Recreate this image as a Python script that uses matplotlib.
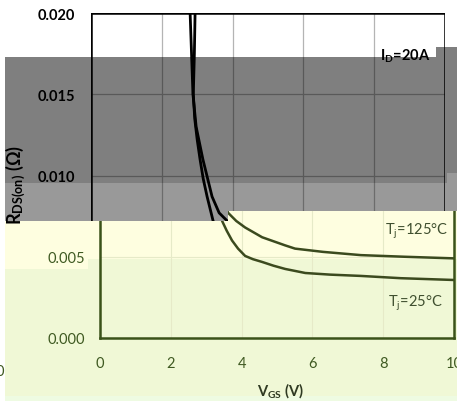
import matplotlib
matplotlib.use("Agg")
import matplotlib.pyplot as plt
from matplotlib.patches import Polygon, Rectangle
from matplotlib.ticker import FuncFormatter

# Rds(on) vs Vgs
vgs_25 = [2.94, 2.92, 2.89, 2.93, 3.00, 3.08, 3.17, 3.28, 3.45, 3.58, 3.73, 3.90, 4.10, 4.32,
          4.58, 4.90, 5.23, 5.80, 6.50, 7.37, 8.50, 10.0]
rds_25 = [0.0200, 0.0175, 0.0150, 0.0135, 0.0122, 0.0110, 0.0098, 0.0087, 0.0072, 0.0066,
          0.0060, 0.0055, 0.00505, 0.00485, 0.00468, 0.00445, 0.00425, 0.0040, 0.0039,
          0.00382, 0.00368, 0.00357]
vgs_125 = [2.80, 2.84, 2.88, 2.97, 3.16, 3.42, 3.62, 3.85, 4.10, 4.58, 5.23, 5.51, 6.30,
           7.37, 8.60, 10.0]
rds_125 = [0.0200, 0.0175, 0.0150, 0.0130, 0.0110, 0.0087, 0.0077, 0.0072, 0.0068, 0.0062,
           0.0057, 0.0055, 0.0053, 0.0051, 0.0050, 0.0049]
x_ticks = [0, 2, 4, 6, 8, 10]
y_ticks = [0.000, 0.005, 0.010, 0.015, 0.020]

W, H = 457, 402
plt.rcParams["font.family"] = ["Lato", "DejaVu Sans"]
plt.rcParams["mathtext.fontset"] = "custom"
plt.rcParams["mathtext.rm"] = "Lato"
plt.rcParams["mathtext.bf"] = "Lato:bold"
plt.rcParams["mathtext.it"] = "Lato:italic"

olive = "#3a5219"
curve_olive = "#3b4a1e"
label_olive = "#3f5a22"


def fx(px):
    return px / W


def fy(py):
    return 1 - py / H


def frect(x0, y0, x1, y1, **kw):
    return Rectangle((fx(x0), fy(y1)), fx(x1) - fx(x0), fy(y0) - fy(y1),
                     transform=fig.transFigure, linewidth=0, **kw)


fig = plt.figure(figsize=(W / 100, H / 100), dpi=100)
fig.patch.set_facecolor("white")

# lower background bands
fig.add_artist(frect(5, 212, 457, 260, facecolor="#fefee0", zorder=-2))
fig.add_artist(frect(5, 260, 88, 270, facecolor="#fefee0", zorder=-2))
fig.add_artist(frect(5, 260, 457, 397, facecolor="#f0f8d6", zorder=-3))
fig.add_artist(frect(88, 260, 457, 270, facecolor="#f0f8d6", zorder=-2))
fig.add_artist(frect(5, 397, 457, 402, facecolor="#eefbe2", zorder=-2))

upper = [(0, 0), (457, 0), (457, 212), (228, 212), (228, 222), (0, 222)]
upper_fig = [(fx(a), fy(b)) for a, b in upper]

# lower copy of the chart
ax_bot = fig.add_axes([fx(100), fy(339), fx(354), 325 / H], zorder=0)
ax_bot.set_facecolor("none")
ax_bot.plot(vgs_125, rds_125, color=curve_olive, linewidth=1.8)
ax_bot.plot(vgs_25, rds_25, color=curve_olive, linewidth=1.8)
ax_bot.set_xlim(0, 10)
ax_bot.set_ylim(0, 0.020)
ax_bot.set_xticks(x_ticks)
ax_bot.set_yticks(y_ticks)
ax_bot.yaxis.set_major_formatter(FuncFormatter(lambda v, p: f"{v:.3f}" if v < 0.0075 else ""))
ax_bot.grid(True, color="#e6eac8", linewidth=0.8)
ax_bot.tick_params(axis="both", length=0, labelsize=10.5, labelcolor=label_olive)
ax_bot.tick_params(axis="y", pad=10.8)
ax_bot.tick_params(axis="x", pad=13)
for spine in ax_bot.spines.values():
    spine.set_color(olive)
    spine.set_linewidth(1.8)
ax_bot.text(8.05, 0.00665, "T$_\\mathrm{j}$=125°C", fontsize=10.5, color="#3f4f2f", va="center")
ax_bot.text(8.14, 0.00222, "T$_\\mathrm{j}$=25°C", fontsize=10.5, color="#3f4f2f", va="center")

fig.text(fx(281), fy(391), "V$_\\mathbf{GS}$ (V)", fontsize=10.5, fontweight="bold",
         color="#2f3a22", ha="center", va="center")
fig.text(fx(0), fy(372), "0", fontsize=10.5, color=label_olive, ha="center", va="center")

# white base for the upper copy
fig.add_artist(Polygon(upper_fig, closed=True, transform=fig.transFigure,
                       facecolor="white", edgecolor="none", zorder=1))
clip = Polygon(upper_fig, closed=True, transform=fig.transFigure)

# upper copy of the chart, shifted left
ax_top = fig.add_axes([fx(91), fy(339), fx(354), 325 / H], zorder=2)
ax_top.set_facecolor("none")
lines = ax_top.plot(vgs_125, rds_125, color="black", linewidth=2.0)
lines += ax_top.plot(vgs_25, rds_25, color="black", linewidth=2.0)
ax_top.set_xlim(0, 10)
ax_top.set_ylim(0, 0.020)
ax_top.set_xticks(x_ticks)
ax_top.set_yticks(y_ticks)
ax_top.set_xticklabels([])
ax_top.yaxis.set_major_formatter(FuncFormatter(lambda v, p: f"{v:.3f}" if v > 0.0075 else ""))
ax_top.grid(True, color="#b4b4b4", linewidth=0.9)
ax_top.tick_params(axis="both", length=0, labelsize=10.5)
ax_top.tick_params(axis="y", pad=11.5)
for lab in ax_top.get_yticklabels():
    lab.set_fontweight("bold")
for spine in ax_top.spines.values():
    spine.set_color("black")
    spine.set_linewidth(1.8)
    spine.set_clip_on(True)
    spine.set_clip_path(clip)
for line in lines:
    line.set_clip_path(clip)
ax_top.xaxis.get_major_ticks()
ax_top.yaxis.get_major_ticks()
ax_top.xaxis.set_clip_path(clip)
ax_top.yaxis.set_clip_path(clip)
ax_top.text(8.16, 0.01742, "I$_\\mathbf{D}$=20A", fontsize=10.5, fontweight="bold", va="center")

ylab = fig.text(fx(16), fy(185), "R$_\\mathbf{DS(on)}$ (Ω)", fontsize=13, fontweight="bold",
                rotation=90, ha="center", va="center", zorder=2.5)
ylab.set_clip_path(clip)

# grey bands laid over the upper copy
for x0, y0, x1, y1 in [(5, 58, 436, 184), (436, 48, 447, 184), (447, 48, 457, 174)]:
    fig.add_artist(frect(x0, y0, x1, y1, facecolor="black", alpha=0.5, zorder=3))
for x0, y0, x1, y1 in [(5, 184, 228, 222), (228, 184, 447, 212), (447, 174, 457, 212)]:
    fig.add_artist(frect(x0, y0, x1, y1, facecolor="black", alpha=0.4, zorder=3))

fig.savefig("out.png", dpi=100)
